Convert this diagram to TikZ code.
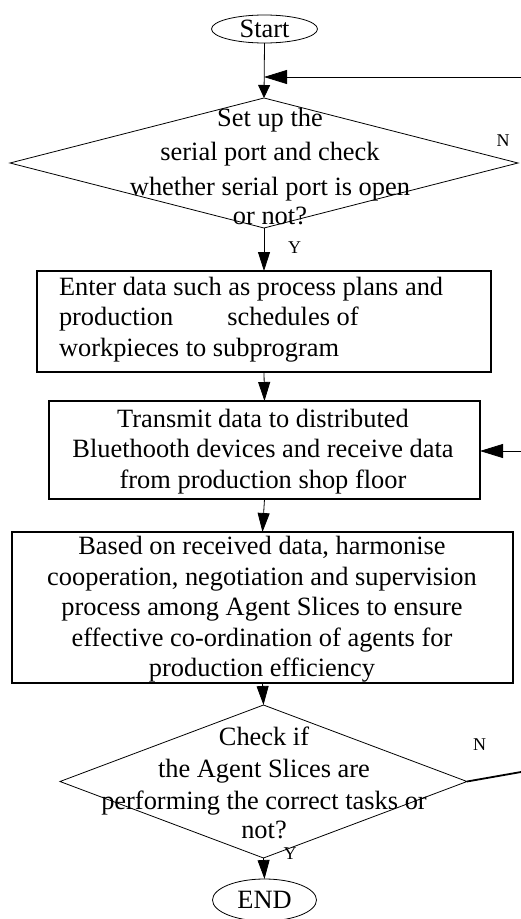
\documentclass[tikz,border=0pt]{standalone}
\usepackage{fontspec}
\setmainfont{Liberation Serif}
\usetikzlibrary{shapes.geometric,arrows.meta}
\begin{document}
\begin{tikzpicture}[x=1pt,y=-1pt,
  every node/.style={inner sep=0pt,outer sep=0pt},
  term/.style={draw,ellipse,line width=0.8pt},
  procbox/.style={draw,rectangle,line width=1.1pt},
  decbox/.style={draw,diamond,line width=0.8pt},
  btext/.style={font=\fontsize{26.4}{30.5}\selectfont,align=center,anchor=north},
  lab/.style={font=\fontsize{18}{20}\selectfont},
  arr/.style={line width=0.8pt,-{Triangle[length=19pt,width=12pt]}},
  sarr/.style={line width=0.8pt,-{Triangle[length=13pt,width=12pt]}},
  barr/.style={line width=0.8pt,-{Triangle[length=23pt,width=14pt]}}
]
\useasboundingbox (0,0) rectangle (521,919);

% start
\node[term,minimum width=106pt,minimum height=28pt,font=\fontsize{26.4}{28}\selectfont] (start) at (264.5,29) {Start};

% decision 1
\node[decbox,minimum width=508pt,minimum height=130pt] (d1) at (264,163) {};
\node[btext,font=\fontsize{26.4}{34.5}\selectfont] (d1t) at (270,108)
  {Set up the\\serial port and check\\whether serial port is open\\[-5pt]or not?};

% box 2
\node[procbox,minimum width=454pt,minimum height=101pt] (b2) at (264,321.5) {};
\node[btext,align=left,anchor=north west] (b2t) at (59,277)
  {Enter data such as process plans and\\production\hspace{54pt}schedules of\\workpieces to subprogram};

% box 3
\node[procbox,minimum width=431pt,minimum height=98pt] (b3) at (264.5,450) {};
\node[btext] (b3t) at (263,409)
  {Transmit data to distributed\\Bluethooth devices and receive data\\from production shop floor};

% box 4
\node[procbox,minimum width=501pt,minimum height=151pt] (b4) at (262.5,607.5) {};
\node[btext] (b4t) at (262,536.5)
  {Based on received data, harmonise\\cooperation, negotiation and supervision\\process among Agent Slices to ensure\\effective co-ordination of agents for\\production efficiency};

% decision 2
\node[decbox,minimum width=407pt,minimum height=153pt] (d2) at (263.5,781.5) {};
\node[btext,font=\fontsize{26.4}{32}\selectfont] (d2t) at (264,727)
  {Check if\\the Agent Slices are\\performing the correct tasks or\\[-3pt]not?};

% end
\node[term,minimum width=104pt,minimum height=42pt,font=\fontsize{26.4}{28}\selectfont] (end) at (264.5,900) {END};

% labels
\node[lab] (n1) at (503,141) {N};
\node[lab] (y1) at (294.5,248) {Y};
\node[lab] (n2) at (479.5,744.5) {N};
\node[lab] (y2) at (290,853.5) {Y};

% connector coordinates
\coordinate (fbR) at (521,77);
\coordinate (fbL) at (264,77);
\coordinate (rbR) at (521,451);
\coordinate (nR) at (521,772);

% connectors
\draw[sarr] (start.south) -- (d1.north);
\draw[barr] (fbR) -- (fbL);
\draw[arr] (d1.south) -- (b2.north);
\draw[arr] (b2.south) -- (b3.north);
\draw[barr] (rbR) -- (b3.east |- rbR);
\draw[arr] (b3.south) -- (b4.north);
\draw[arr] (b4.south) -- (d2.north);
\draw[line width=1.8pt] (d2.east) -- (nR);
\draw[arr] (d2.south) -- (end.north);
\end{tikzpicture}
\end{document}
